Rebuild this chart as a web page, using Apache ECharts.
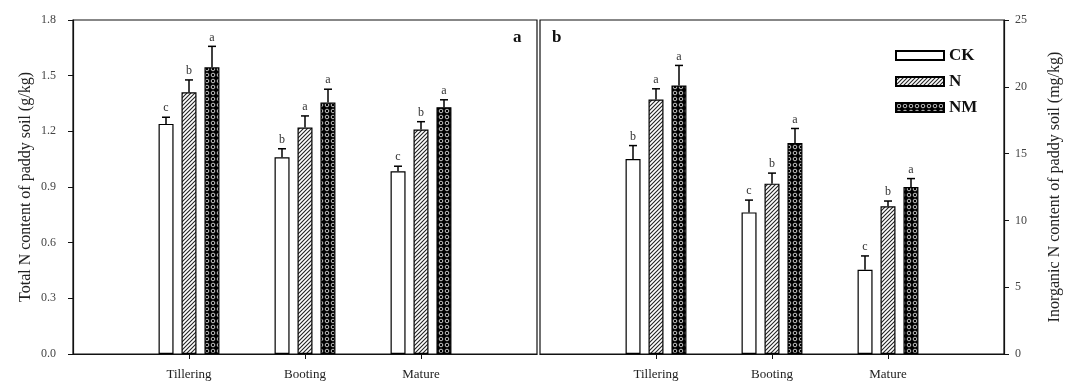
<!DOCTYPE html>
<html>
<head>
<meta charset="utf-8">
<script src="https://cdn.jsdelivr.net/npm/echarts@6/dist/echarts.min.js"></script>
<style>
html,body{margin:0;padding:0;background:#fff;}
#chart{width:1077px;height:387px;}
</style>
</head>
<body>
<div id="chart"></div>
<script>
// ---- data ----
var categories = ['Tillering', 'Booting', 'Mature'];
var treatments = ['CK', 'N', 'NM'];

var totalN_CK = [1.24, 1.06, 0.985];
var totalN_N = [1.41, 1.22, 1.21];
var totalN_NM = [1.545, 1.355, 1.33];
var totalN_CK_err = [0.036, 0.046, 0.027];
var totalN_N_err = [0.067, 0.063, 0.042];
var totalN_NM_err = [0.113, 0.072, 0.04];
var totalN_CK_sig = ['c', 'b', 'c'];
var totalN_N_sig = ['b', 'a', 'b'];
var totalN_NM_sig = ['a', 'a', 'a'];

var inorgN_CK = [14.6, 10.6, 6.3];
var inorgN_N = [19.05, 12.75, 11.05];
var inorgN_NM = [20.1, 15.8, 12.5];
var inorgN_CK_err = [1.0, 0.92, 1.04];
var inorgN_N_err = [0.8, 0.79, 0.4];
var inorgN_NM_err = [1.5, 1.08, 0.63];
var inorgN_CK_sig = ['b', 'c', 'c'];
var inorgN_N_sig = ['a', 'b', 'b'];
var inorgN_NM_sig = ['a', 'a', 'a'];

var leftTicks = [0, 0.3, 0.6, 0.9, 1.2, 1.5, 1.8];
var rightTicks = [0, 5, 10, 15, 20, 25];

// ---- patterns ----
function makeHatch() {
  var c = document.createElement('canvas');
  c.width = 4; c.height = 4;
  var g = c.getContext('2d');
  g.fillStyle = '#fff'; g.fillRect(0, 0, 4, 4);
  g.strokeStyle = '#222'; g.lineWidth = 1.1;
  g.beginPath();
  g.moveTo(-1, 5); g.lineTo(5, -1);
  g.moveTo(-1, 1); g.lineTo(1, -1);
  g.moveTo(3, 5); g.lineTo(5, 3);
  g.stroke();
  return c;
}
function makeDots() {
  var c = document.createElement('canvas');
  c.width = 6; c.height = 6;
  var g = c.getContext('2d');
  g.fillStyle = '#000'; g.fillRect(0, 0, 6, 6);
  g.strokeStyle = '#d8d8d8'; g.lineWidth = 0.9;
  g.beginPath();
  g.arc(3, 3, 1.8, 0, Math.PI * 2);
  g.stroke();
  return c;
}
var fills = [
  '#ffffff',
  { image: makeHatch(), repeat: 'repeat' },
  { image: makeDots(), repeat: 'repeat' }
];

var panels = [
  { vals: [totalN_CK, totalN_N, totalN_NM], errs: [totalN_CK_err, totalN_N_err, totalN_NM_err], sig: [totalN_CK_sig, totalN_N_sig, totalN_NM_sig] },
  { vals: [inorgN_CK, inorgN_N, inorgN_NM], errs: [inorgN_CK_err, inorgN_N_err, inorgN_NM_err], sig: [inorgN_CK_sig, inorgN_N_sig, inorgN_NM_sig] }
];

var axisCats = [''].concat(categories).concat(['']);
var BAR_W = 15, BAR_STEP = 23;
var serif = "'Liberation Serif', 'DejaVu Serif', serif";

var series = [];
panels.forEach(function (p, pi) {
  treatments.forEach(function (t, ti) {
    series.push({
      name: t, type: 'bar', xAxisIndex: pi, yAxisIndex: pi,
      barWidth: BAR_W, barGap: '53%',
      data: ['-'].concat(p.vals[ti]).concat(['-']),
      itemStyle: { color: fills[ti], borderColor: '#000', borderWidth: 1.2 },
      emphasis: { disabled: true }
    });
  });
  treatments.forEach(function (t, ti) {
    var d = p.vals[ti].map(function (v, i) { return [i + 1, v, p.errs[ti][i], p.sig[ti][i]]; });
    series.push({
      type: 'custom', xAxisIndex: pi, yAxisIndex: pi, z: 5,
      data: d,
      encode: { x: 0, y: 1 },
      renderItem: (function (off) {
        return function (params, api) {
          var base = api.coord([api.value(0), api.value(1)]);
          var top = api.coord([api.value(0), api.value(1) + api.value(2)]);
          var x = base[0] + off;
          var letter = d[params.dataIndex][3];
          return {
            type: 'group',
            children: [
              { type: 'line', shape: { x1: x, y1: base[1], x2: x, y2: top[1] }, style: { stroke: '#000', lineWidth: 1.5 } },
              { type: 'line', shape: { x1: x - 4, y1: top[1], x2: x + 4, y2: top[1] }, style: { stroke: '#000', lineWidth: 1.5 } },
              { type: 'text', style: { text: letter, x: x, y: top[1] - 3, textAlign: 'center', textVerticalAlign: 'bottom', font: '12px ' + serif, fill: '#333' } }
            ]
          };
        };
      })((ti - 1) * BAR_STEP)
    });
  });
});

function xAxisCfg(gi) {
  return {
    type: 'category', gridIndex: gi, data: axisCats, boundaryGap: false,
    axisLine: { show: true, lineStyle: { color: '#111', width: 1.2 } },
    axisTick: { show: true, length: 5, interval: function (i) { return i >= 1 && i <= 3; }, lineStyle: { color: '#111' } },
    axisLabel: { interval: 0, margin: 14, color: '#222', fontSize: 13, fontFamily: serif },
    splitLine: { show: false }
  };
}

var option = {
  animation: false,
  backgroundColor: '#fff',
  grid: [
    { left: 73, right: 540, top: 20, bottom: 33, show: true, borderColor: '#111', borderWidth: 1.2 },
    { left: 540, right: 73, top: 20, bottom: 33, show: true, borderColor: '#111', borderWidth: 1.2 }
  ],
  title: [
    { text: 'a', left: 508, top: 24, textStyle: { fontFamily: serif, fontSize: 17, fontWeight: 'bold', color: '#111' } },
    { text: 'b', left: 547, top: 24, textStyle: { fontFamily: serif, fontSize: 17, fontWeight: 'bold', color: '#111' } }
  ],
  legend: {
    data: treatments, orient: 'vertical', left: 890, top: 42,
    itemWidth: 48, itemHeight: 9, itemGap: 9, icon: 'rect',
    textStyle: { fontFamily: serif, fontSize: 17, fontWeight: 'bold', color: '#111' },
    selectedMode: false
  },
  xAxis: [xAxisCfg(0), xAxisCfg(1)],
  yAxis: [
    {
      type: 'value', gridIndex: 0, position: 'left', min: leftTicks[0], max: leftTicks[leftTicks.length - 1], interval: 0.3,
      name: 'Total N content of paddy soil (g/kg)', nameLocation: 'middle', nameGap: 39, nameRotate: 90,
      nameTextStyle: { fontFamily: serif, fontSize: 16, color: '#222' },
      axisLine: { show: true, lineStyle: { color: '#111', width: 1.2 } },
      axisTick: { show: true, length: 5, lineStyle: { color: '#111' } },
      axisLabel: { formatter: function (v) { return v.toFixed(1); }, color: '#444', fontSize: 12, fontFamily: serif, margin: 17 },
      splitLine: { show: false }
    },
    {
      type: 'value', gridIndex: 1, position: 'right', min: rightTicks[0], max: rightTicks[rightTicks.length - 1], interval: 5,
      name: 'Inorganic N content of paddy soil (mg/kg)', nameLocation: 'middle', nameGap: 43, nameRotate: 90,
      nameTextStyle: { fontFamily: serif, fontSize: 16, color: '#222' },
      axisLine: { show: true, lineStyle: { color: '#111', width: 1.2 } },
      axisTick: { show: true, length: 5, lineStyle: { color: '#111' } },
      axisLabel: { color: '#444', fontSize: 12, fontFamily: serif, margin: 11 },
      splitLine: { show: false }
    }
  ],
  series: series
};

var chart = echarts.init(document.getElementById('chart'), null, { renderer: 'canvas' });
chart.setOption(option);
</script>
</body>
</html>
